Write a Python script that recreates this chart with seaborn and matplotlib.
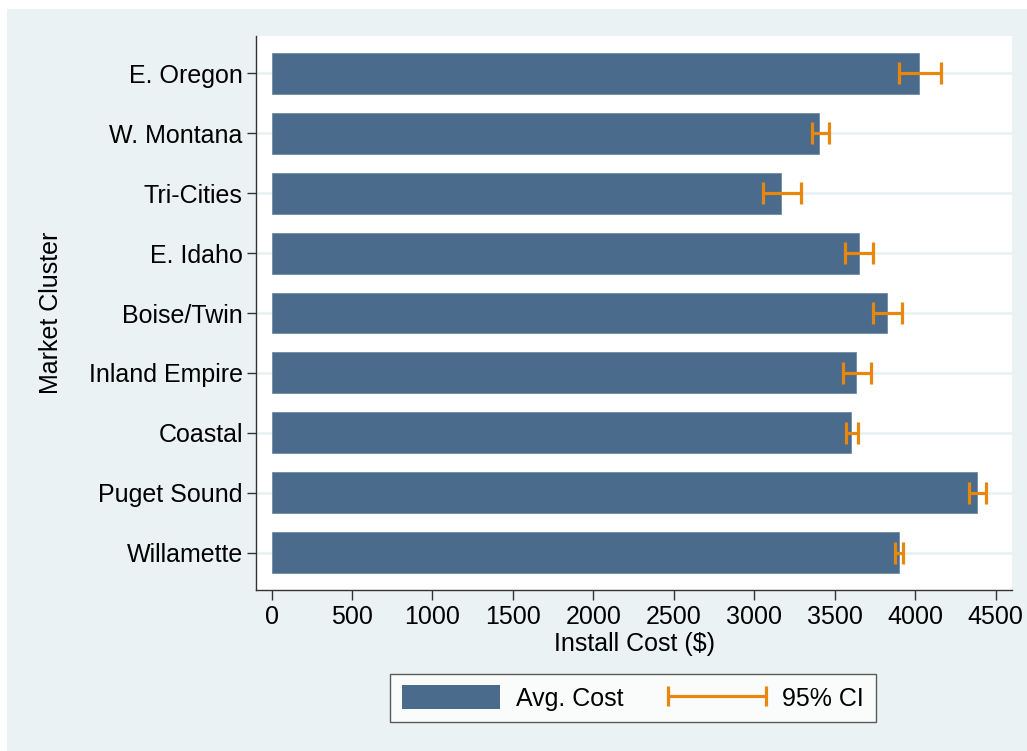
import numpy as np
import pandas as pd
import matplotlib
matplotlib.use("Agg")
from matplotlib import pyplot as plt
from matplotlib.lines import Line2D
from matplotlib.patches import Patch, Rectangle
from matplotlib.legend_handler import HandlerLine2D
import seaborn as sns

# values
clusters = ['E. Oregon', 'W. Montana', 'Tri-Cities', 'E. Idaho', 'Boise/Twin',
            'Inland Empire', 'Coastal', 'Puget Sound', 'Willamette']
avg_cost = [4026, 3405, 3167, 3652, 3827, 3635, 3603, 4385, 3900]
ci_low = [3898, 3361, 3055, 3565, 3740, 3552, 3571, 4333, 3875]
ci_high = [4163, 3463, 3291, 3740, 3920, 3724, 3646, 4442, 3926]
xticks = [0, 500, 1000, 1500, 2000, 2500, 3000, 3500, 4000, 4500]

BAR = '#4a6b8c'
CI = '#e8870e'
BG = '#eaf2f3'

sns.set_style("white")
plt.rcParams['font.family'] = ['Liberation Sans', 'DejaVu Sans']
plt.rcParams['text.color'] = 'black'
plt.rcParams['axes.labelcolor'] = 'black'

df = pd.DataFrame({'cluster': clusters, 'cost': avg_cost, 'lo': ci_low, 'hi': ci_high})

fig = plt.figure(figsize=(10.27, 7.51), dpi=100)
fig.patch.set_facecolor('white')
# light outer panel (graph region)
fig.patches.append(Rectangle((7 / 1027, 0), 1, 1 - 9 / 751, transform=fig.transFigure,
                             facecolor=BG, edgecolor='none', zorder=-10))

ax = fig.add_axes([256 / 1027, 1 - 590 / 751, (1012 - 256) / 1027, (590 - 36) / 751])
ax.set_facecolor('white')

pos = np.arange(len(df))
for p in pos:
    ax.axhline(p, color=BG, lw=2, zorder=0)

sns.barplot(data=df, x='cost', y='cluster', orient='h', color=BAR, saturation=1,
            width=0.683, errorbar=None, ax=ax, zorder=2,
            edgecolor='#6f8ba6', linewidth=0.6)

xerr = [df['cost'] - df['lo'], df['hi'] - df['cost']]
ax.errorbar(df['cost'], pos, xerr=xerr, fmt='none', ecolor=CI, elinewidth=2.3,
            capsize=7.8, capthick=2.3, zorder=3)

ax.set_xlim(-97, 4602)
ax.set_ylim(len(df) - 1 + 0.62, -0.62)
ax.set_xticks(xticks)
ax.set_xticklabels([str(t) for t in xticks])

for s in ['top', 'right']:
    ax.spines[s].set_visible(False)
for s in ['left', 'bottom']:
    ax.spines[s].set_color('#333333')
    ax.spines[s].set_linewidth(1.0)

ax.tick_params(axis='y', direction='out', length=6.5, width=1.0, color='#333333',
               labelcolor='black', labelsize=18, pad=3, left=True)
ax.tick_params(axis='x', direction='out', length=7, width=1.0, color='#333333',
               labelcolor='black', labelsize=18, pad=4, bottom=True)

ax.set_xlabel('Install Cost ($)', fontsize=18)
ax.set_ylabel('Market Cluster', fontsize=18)
ax.xaxis.set_label_coords(0.5, -0.075)
ax.yaxis.set_label_coords(-0.255, 0.5)

bar_handle = Patch(facecolor=BAR, edgecolor='none')
ci_handle = Line2D([0, 1], [0, 1], color=CI, lw=2.3, marker='|', markersize=14.5, mew=2.3)
leg = fig.legend([bar_handle, ci_handle], ['Avg. Cost', '95% CI'], ncol=2,
                 loc='center', bbox_to_anchor=(633 / 1027, 1 - 698 / 751),
                 fontsize=18, frameon=True, fancybox=False, shadow=False,
                 handlelength=3.9, handleheight=1.05, handletextpad=0.65,
                 columnspacing=1.8, borderpad=0.47, borderaxespad=0,
                 handler_map={ci_handle: HandlerLine2D(marker_pad=0, numpoints=2)})
leg.get_frame().set_edgecolor('#333333')
leg.get_frame().set_linewidth(1.0)
leg.get_frame().set_facecolor('white')

fig.savefig('out.png', dpi=100)
